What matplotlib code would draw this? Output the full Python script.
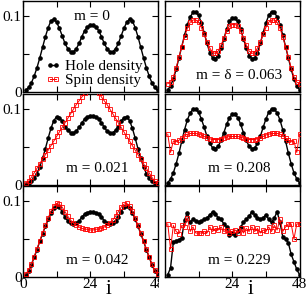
import matplotlib.pyplot as plt
import numpy as np
from matplotlib.transforms import Bbox, TransformedBbox

plt.rcParams['font.family'] = ['Liberation Serif', 'DejaVu Serif']

# Data: site index and densities for each panel
sites = np.arange(1, 49)

hole_m0 = [0.002, 0.006, 0.012, 0.021, 0.032, 0.045, 0.059, 0.073, 0.085, 0.094, 0.096, 0.092,
           0.084, 0.074, 0.064, 0.057, 0.053, 0.053, 0.057, 0.064, 0.073, 0.081, 0.086, 0.088,
           0.088, 0.086, 0.081, 0.073, 0.064, 0.057, 0.053, 0.053, 0.057, 0.064, 0.074, 0.084,
           0.092, 0.096, 0.094, 0.085, 0.073, 0.059, 0.045, 0.032, 0.021, 0.012, 0.006, 0.002]

hole_m021 = [0.001, 0.003, 0.005, 0.009, 0.015, 0.024, 0.035, 0.048, 0.062, 0.075, 0.085, 0.090,
             0.089, 0.084, 0.077, 0.072, 0.069, 0.069, 0.071, 0.076, 0.082, 0.087, 0.090, 0.091,
             0.091, 0.090, 0.087, 0.082, 0.076, 0.071, 0.069, 0.069, 0.072, 0.077, 0.084, 0.089,
             0.090, 0.085, 0.075, 0.062, 0.048, 0.035, 0.024, 0.015, 0.009, 0.005, 0.003, 0.001]
spin_m021 = [0.002, 0.005, 0.010, 0.016, 0.022, 0.028, 0.034, 0.040, 0.046, 0.052, 0.058, 0.064,
             0.070, 0.076, 0.082, 0.088, 0.094, 0.100, 0.106, 0.111, 0.116, 0.121, 0.126, 0.130,
             0.130, 0.126, 0.121, 0.116, 0.111, 0.106, 0.100, 0.094, 0.088, 0.082, 0.076, 0.070,
             0.064, 0.058, 0.052, 0.046, 0.040, 0.034, 0.028, 0.022, 0.016, 0.010, 0.005, 0.002]

hole_m042 = [0.003, 0.008, 0.016, 0.026, 0.036, 0.047, 0.057, 0.067, 0.076, 0.085, 0.091, 0.094,
             0.092, 0.086, 0.079, 0.074, 0.071, 0.070, 0.071, 0.074, 0.079, 0.083, 0.085, 0.086,
             0.086, 0.085, 0.083, 0.079, 0.074, 0.071, 0.070, 0.071, 0.074, 0.079, 0.086, 0.092,
             0.094, 0.091, 0.085, 0.076, 0.067, 0.057, 0.047, 0.036, 0.026, 0.016, 0.008, 0.003]
spin_m042 = [0.004, 0.009, 0.017, 0.027, 0.037, 0.048, 0.058, 0.068, 0.078, 0.087, 0.094, 0.097,
             0.096, 0.092, 0.086, 0.080, 0.075, 0.071, 0.068, 0.066, 0.064, 0.063, 0.063, 0.062,
             0.062, 0.063, 0.063, 0.064, 0.066, 0.068, 0.071, 0.075, 0.080, 0.086, 0.092, 0.096,
             0.097, 0.094, 0.087, 0.078, 0.068, 0.058, 0.048, 0.037, 0.027, 0.017, 0.009, 0.004]

hole_m063 = [0.003, 0.008, 0.017, 0.030, 0.045, 0.060, 0.075, 0.089, 0.099, 0.105, 0.106, 0.101,
             0.091, 0.078, 0.064, 0.052, 0.045, 0.044, 0.048, 0.058, 0.070, 0.083, 0.093, 0.097,
             0.097, 0.093, 0.083, 0.070, 0.058, 0.048, 0.044, 0.045, 0.052, 0.064, 0.078, 0.091,
             0.101, 0.106, 0.105, 0.099, 0.089, 0.075, 0.060, 0.045, 0.030, 0.017, 0.008, 0.003]
spin_m063 = [0.011, 0.013, 0.020, 0.032, 0.046, 0.060, 0.073, 0.084, 0.092, 0.095, 0.095, 0.092,
             0.085, 0.076, 0.066, 0.058, 0.052, 0.051, 0.054, 0.062, 0.071, 0.080, 0.087, 0.089,
             0.089, 0.087, 0.080, 0.071, 0.062, 0.054, 0.051, 0.052, 0.058, 0.066, 0.076, 0.085,
             0.092, 0.095, 0.095, 0.092, 0.084, 0.073, 0.060, 0.046, 0.032, 0.020, 0.013, 0.011]

hole_m208 = [0.003, 0.008, 0.016, 0.028, 0.042, 0.058, 0.073, 0.086, 0.095, 0.100, 0.100, 0.096,
             0.087, 0.076, 0.064, 0.055, 0.049, 0.048, 0.051, 0.059, 0.069, 0.080, 0.089, 0.093,
             0.093, 0.089, 0.080, 0.069, 0.059, 0.051, 0.048, 0.049, 0.055, 0.064, 0.076, 0.087,
             0.096, 0.100, 0.100, 0.095, 0.086, 0.073, 0.058, 0.042, 0.028, 0.016, 0.008, 0.003]
spin_m208 = [0.067, 0.043, 0.058, 0.057, 0.059, 0.062, 0.065, 0.067, 0.068, 0.068, 0.068, 0.067,
             0.066, 0.064, 0.062, 0.061, 0.060, 0.060, 0.060, 0.061, 0.062, 0.063, 0.064, 0.064,
             0.064, 0.064, 0.063, 0.062, 0.061, 0.060, 0.060, 0.060, 0.061, 0.062, 0.064, 0.066,
             0.067, 0.068, 0.068, 0.068, 0.067, 0.065, 0.062, 0.059, 0.057, 0.058, 0.043, 0.067]

hole_m229 = [0.003, 0.012, 0.046, 0.048, 0.049, 0.052, 0.075, 0.085, 0.072, 0.076, 0.074, 0.072,
             0.074, 0.076, 0.078, 0.082, 0.086, 0.083, 0.078, 0.076, 0.070, 0.066, 0.056, 0.058,
             0.055, 0.060, 0.066, 0.072, 0.076, 0.080, 0.086, 0.082, 0.078, 0.076, 0.078, 0.082,
             0.076, 0.072, 0.078, 0.086, 0.072, 0.053, 0.050, 0.045, 0.030, 0.020, 0.010, 0.003]
spin_m229 = [0.070, 0.037, 0.068, 0.060, 0.057, 0.068, 0.066, 0.078, 0.060, 0.066, 0.058, 0.058,
             0.058, 0.060, 0.058, 0.066, 0.060, 0.064, 0.062, 0.066, 0.060, 0.062, 0.058, 0.060,
             0.062, 0.058, 0.064, 0.058, 0.064, 0.060, 0.066, 0.060, 0.064, 0.058, 0.062, 0.060,
             0.066, 0.060, 0.068, 0.062, 0.076, 0.060, 0.066, 0.070, 0.070, 0.050, 0.070, 0.070]

panels = [
    # (row, col, hole, spin, label)
    (0, 0, hole_m0, None, 'm = 0'),
    (1, 0, hole_m021, spin_m021, 'm = 0.021'),
    (2, 0, hole_m042, spin_m042, 'm = 0.042'),
    (0, 1, hole_m063, spin_m063, 'm = δ = 0.063'),
    (1, 1, hole_m208, spin_m208, 'm = 0.208'),
    (2, 1, hole_m229, spin_m229, 'm = 0.229'),
]
label_pos = {(0, 0): (24.7, 0.100)}

fig = plt.figure(figsize=(3.06, 3.0), dpi=100)
lefts = [0.075, 0.539]
width = 0.440
bottoms = [0.6933, 0.3833, 0.0767]
height = 0.3033

for row, col, hole, spin, label in panels:
    ax = fig.add_axes([lefts[col], bottoms[row], width, height])
    ax.plot(sites, hole, color='black', lw=1.0, marker='o', ms=2.3, zorder=3,
            label='Hole density')
    if spin is not None:
        ax.plot(sites, spin, color='red', lw=0.7, marker='s', ms=3.2, mfc='none',
                mew=0.6, zorder=4, label='Spin density')
    ax.set_xlim(0, 48)
    ax.set_ylim(0, 0.12)
    ax.set_xticks([0, 12, 24, 36, 48])
    ax.set_yticks([0, 0.05, 0.1])
    ax.tick_params(direction='in', top=True, right=True, length=4, width=0.8,
                   labelsize=11, pad=1)
    for s in ax.spines.values():
        s.set_linewidth(1.0)
    if col == 0:
        ax.set_yticklabels(['0', '', '0.1'])
    else:
        ax.set_yticklabels(['', '', ''])
    if row == 2:
        if col == 0:
            ax.set_xticklabels(['0', '', '24', '', '48'])
            # the "48" of the left column is cut by the right column
            lab = ax.xaxis.get_major_ticks()[-1].label1
            lab.set_clip_on(True)
            lab.set_clip_box(TransformedBbox(Bbox([[0, 0], [0.519, 1]]), fig.transFigure))
        else:
            ax.set_xticklabels(['', '', '24', '', '48'])
        ax.text(30.5, -0.029, 'i', fontsize=15, ha='center', va='bottom')
    else:
        ax.set_xticklabels(['', '', '', '', ''])
    lx, ly = label_pos.get((row, col), (26.5, 0.022))
    ax.text(lx, ly, label, fontsize=11, ha='center', va='center')
    if row == 0 and col == 0:
        ax.plot([], [], color='red', lw=0.7, marker='s', ms=3.2, mfc='none', mew=0.6,
                label='Spin density')
        ax.legend(loc='lower left', bbox_to_anchor=(0.1, -0.05), frameon=False,
                  fontsize=11, handlelength=1.0, handletextpad=0.3, borderpad=0.1,
                  labelspacing=0.05, numpoints=2)

plt.savefig('out.png', dpi=100)
